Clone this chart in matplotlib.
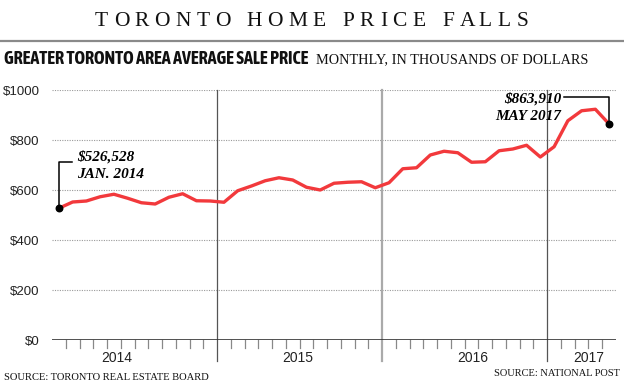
import matplotlib
matplotlib.use("Agg")
import matplotlib.pyplot as plt
from matplotlib import font_manager as fm

# ---- data ----
months = list(range(41))  # Jan 2014 .. May 2017
prices = [527, 552, 556, 573, 583, 567, 549, 544, 571, 585, 557, 556,
          551, 597, 616, 637, 649, 640, 611, 600, 627, 631, 633, 609,
          629, 685, 689, 740, 755, 749, 711, 713, 757, 764, 779, 732,
          773, 877, 917, 923, 864]
yticks = [0, 200, 400, 600, 800, 1000]
ytick_labels = ["$0", "$200", "$400", "$600", "$800", "$1000"]
years = ["2014", "2015", "2016", "2017"]
year_label_pos = [4.2, 17.4, 30.1, 38.5]
year_boundaries = [11.5, 23.5, 35.5]
first_label = ["$526,528", "JAN. 2014"]
last_label = ["$863,910", "MAY 2017"]
title = "TORONTO HOME PRICE FALLS"
subtitle = "GREATER TORONTO AREA AVERAGE SALE PRICE"
subtitle2 = "MONTHLY, IN THOUSANDS OF DOLLARS"

# pick a condensed bold sans if one is installed
cond = None
for f in fm.fontManager.ttflist:
    n = f.name
    if ("Condensed" in n or "Narrow" in n) and f.weight in (700, "bold"):
        cond = n
        break
cond_stretch = "normal"
if cond is None:
    for f in fm.fontManager.ttflist:
        if f.name == "DejaVu Sans" and f.stretch == "condensed" and f.weight in (700, "bold"):
            cond = "DejaVu Sans"
            cond_stretch = "condensed"
            break
if cond is None:
    cond = "Roboto"

serif = "Liberation Serif"
sans = "Liberation Sans"

W, H = 624, 388
fig = plt.figure(figsize=(W / 100, H / 100), dpi=100)
fig.patch.set_facecolor("white")
renderer = fig.canvas.get_renderer()

def fx(px):
    return px / W

def fy(py):
    return 1 - py / H

def width_px(s, **kw):
    t = fig.text(0, 0, s, **kw)
    w = t.get_window_extent(renderer=renderer).width
    t.remove()
    return w

ax = fig.add_axes([fx(52), fy(340), fx(616) - fx(52), fy(90) - fy(340)])
ax.set_xlim(-0.5, 40.5)
ax.set_ylim(0, 1000)
for s in ax.spines.values():
    s.set_visible(False)
ax.set_facecolor("none")

# gridlines
for v in yticks[1:]:
    ax.axhline(v, color="#9a9a9a", lw=0.8, ls=(0, (1, 1.2)), zorder=1)
ax.axhline(0, color="#333333", lw=1.2, zorder=2)

# year separators
sep_colors = ["#555555", "#aaaaaa", "#555555"]
sep_w = [0.9, 1.6, 0.9]
for b, c, w in zip(year_boundaries, sep_colors, sep_w):
    ax.plot([b, b], [-84, 1000], color=c, lw=w, clip_on=False, zorder=1)

# month ticks
for i in range(40):
    t = i + 0.5
    if t in year_boundaries:
        continue
    ax.plot([t, t], [0, -32], color="#888888", lw=0.9, clip_on=False, zorder=1)

ax.set_xticks([])
ax.set_yticks(yticks)
ax.set_yticklabels(ytick_labels, family=sans, fontsize=9.5, color="#222222")
ax.tick_params(axis="y", length=0, pad=9)

for lab, p in zip(years, year_label_pos):
    ax.text(p, -72, lab, ha="center", va="center", family=sans, fontsize=10, color="#222222")

# line
ax.plot(months, prices, color="#f2393c", lw=2.4, solid_joinstyle="round", zorder=4)
ax.scatter([months[0], months[-1]], [prices[0], prices[-1]], s=22, color="black", zorder=5)

# annotations
akw = dict(family=serif, style="italic", weight="bold", fontsize=11)
ax.plot([months[0], months[0], 0.95], [prices[0], 713, 713], color="black", lw=1.1, zorder=3)
ax.text(1.35, 733, first_label[0], ha="left", va="center", **akw)
ax.text(1.35, 664, first_label[1], ha="left", va="center", **akw)
ax.plot([36.75, months[-1], months[-1]], [972, 972, prices[-1]], color="black", lw=1.1, zorder=3)
ax.text(36.5, 966, last_label[0], ha="right", va="center", **akw)
ax.text(36.5, 894, last_label[1], ha="right", va="center", **akw)

# header title with letter spacing (placed char by char)
tkw = dict(family=serif, fontsize=15.5, color="#111111")
x_left, x_right = 95, 528
n = len(title)
base = width_px(title, **tkw)
spacing = (x_right - x_left - base) / (n - 1)
bar = width_px("|", **tkw)
for k, ch in enumerate(title):
    if ch == " ":
        continue
    pre = width_px(title[:k] + "|", **tkw) - bar if k > 0 else 0
    fig.text(fx(x_left + pre + k * spacing), fy(21), ch, ha="left", va="center", **tkw)

fig.add_artist(plt.Line2D([0, 1], [fy(41), fy(41)], color="#8a8a8a", lw=1.6))

skw = dict(family=cond, fontstretch=cond_stretch, weight="bold", fontsize=11.5)
sw = width_px(subtitle, **skw)
skw["fontsize"] = 11.5 * 306 / sw
fig.text(fx(4), fy(59), subtitle, ha="left", va="center", color="#111111", **skw)
s2kw = dict(family=serif, fontsize=10)
s2w = width_px(subtitle2, **s2kw)
s2kw["fontsize"] = 10 * 272 / s2w
fig.text(fx(316), fy(60), subtitle2, ha="left", va="center", color="#111111", **s2kw)

fig.text(fx(4), fy(377), "SOURCE: TORONTO REAL ESTATE BOARD", family=serif,
         fontsize=7.6, ha="left", va="center", color="#111111")
fig.text(fx(620), fy(374), "SOURCE: NATIONAL POST", family=serif,
         fontsize=7.5, ha="right", va="center", color="#111111")

fig.savefig("out.png", dpi=100)
